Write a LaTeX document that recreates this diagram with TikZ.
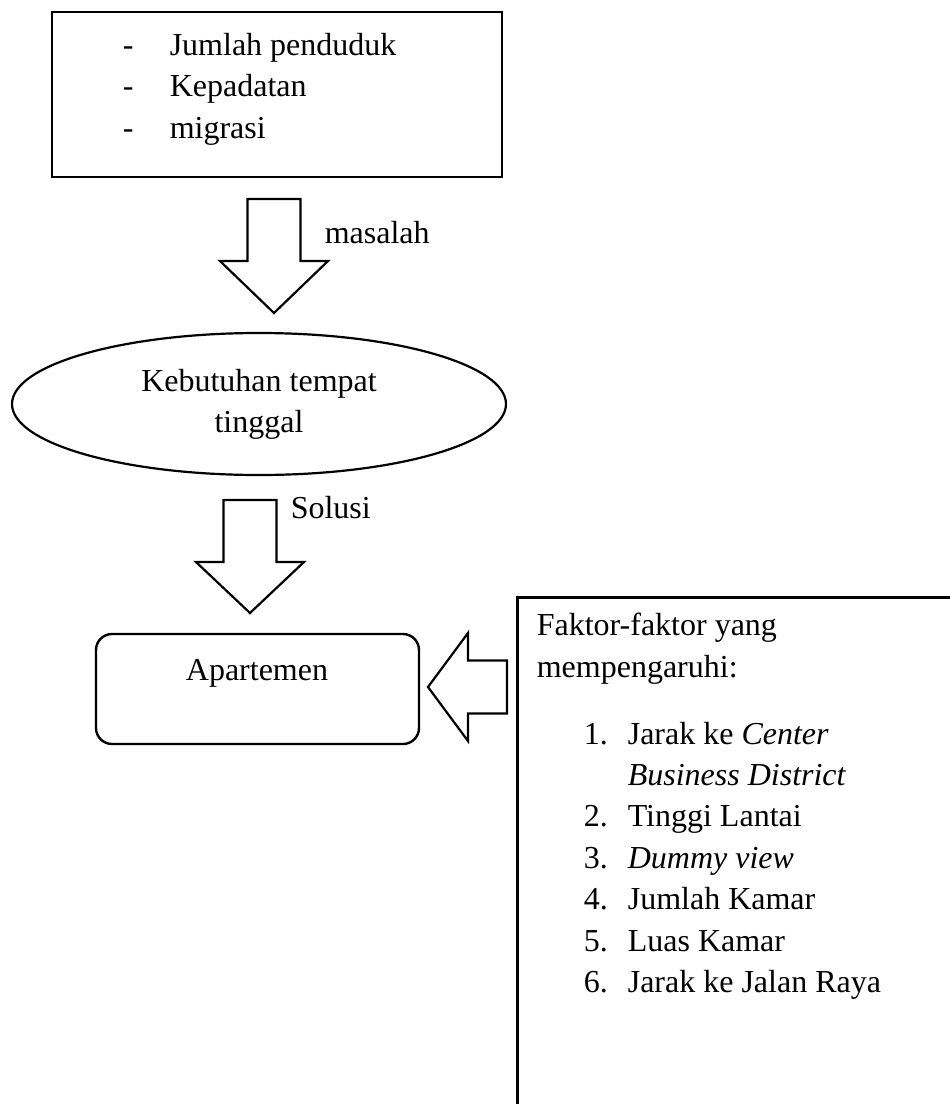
\documentclass[tikz,border=0pt]{standalone}
\usepackage{fontspec}
\setmainfont{Liberation Serif}
\usepackage{tikz}
\usetikzlibrary{
    shapes.geometric
    }

\begin{document}
\begin{tikzpicture}[x=0.25pt, y=-0.25pt, every node/.style={font=\fontsize{8}{10.25}\selectfont}]
\tikzset{plainbox/.style =
        {
            rectangle,
            line width=0.7pt,
            inner sep=0pt,
            draw
        }
}

\tikzset{roundbox/.style =
        {
            plainbox,
            rounded corners=4pt,
            line width=0.6pt
        }
}

\tikzset{needoval/.style =
        {
            ellipse,
            line width=0.55pt,
            inner sep=0pt,
            align=center,
            draw
        }
}

\tikzset{txt/.style = { inner sep=0pt, anchor=base west } }

\tikzset{hollow/.style = {
            line width=0.55pt,
            line join=miter,
            fill=white
        }
}

\tikzset{pics/block arrow/.style 2 args = {
            code = {
                    \draw [hollow] (-26.5,0) -- (26.5,0) -- (26.5,{#1-#2}) -- (54,{#1-#2}) -- (0,#1) -- (-54,{#1-#2}) -- (-26.5,{#1-#2}) -- cycle;
                }
        }
}
		\useasboundingbox (0,0) rectangle (950,1104);

		% problem box
		\node[plainbox, minimum width=112.5pt, minimum height=41.25pt] (popbox) at (277,94.5) {};
		\foreach \entry [count=\i] in {Jumlah penduduk, Kepadatan, migrasi}
		{
			\node[txt] (dash-\i) at (122,{55+41.5*(\i-1)}) {-};
			\node[txt] (pop-\i) at (169,{55+41.5*(\i-1)}) {\entry};
		}

		\pic at (274,199) {block arrow={114}{52}};
		\node[txt] (masalah) at (324,243) {masalah};

		\node[needoval, minimum width=123.5pt, minimum height=35.5pt] (need) at (259,404) {Kebutuhan tempat\\tinggal};

		\pic at (250,500) {block arrow={113}{51}};
		\node[txt] (solusi) at (290,518) {Solusi};

		\node[roundbox, minimum width=80.75pt, minimum height=27.5pt] (apt) at (257.5,689) {};
		\node[txt, anchor=base] (apt-label) at (257,680) {Apartemen};

		\pic[rotate=-90] at (507,687) {block arrow={79}{40}};

		% factors box, cut by the page edge
		\begin{scope}
			\clip (0,0) rectangle (950,1104);
			\node[plainbox, anchor=north west, minimum width=120pt, minimum height=140pt] (factors) at (516,596) {};
		\end{scope}
		\node[txt] (factors-head) at (536,635) {Faktor-faktor yang};
		\node[txt] (factors-head2) at (536,677) {mempengaruhi:};
		\foreach \num / \entry [count=\k from 0] in
			{1./Jarak ke \textit{Center},
				/\textit{Business District},
				2./Tinggi Lantai,
				3./\textit{Dummy view},
				4./Jumlah Kamar,
				5./Luas Kamar,
				6./Jarak ke Jalan Raya}
		{
			\node[txt] (num-\k) at (583,{744+41.4*\k}) {\num};
			\node[txt] (factor-\k) at (627,{744+41.4*\k}) {\entry};
		}

	\end{tikzpicture}
\end{document}
